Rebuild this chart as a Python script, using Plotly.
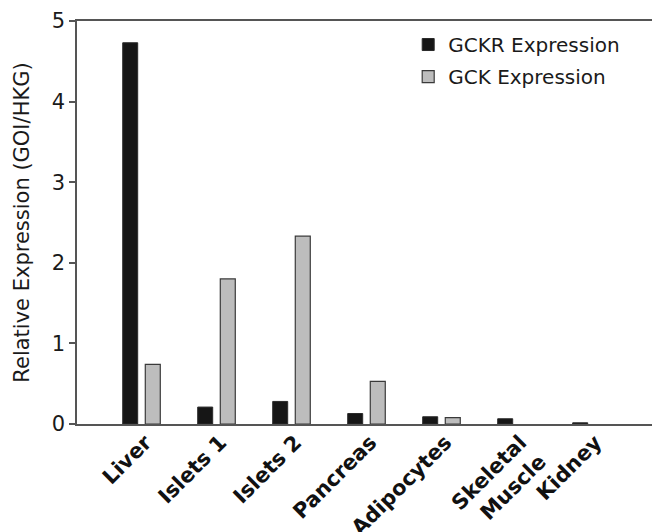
import plotly.graph_objects as go

categories = ["Liver", "Islets 1", "Islets 2", "Pancreas", "Adipocytes", "Skeletal<br>Muscle", "Kidney"]
gckr_values = [4.73, 0.21, 0.28, 0.13, 0.09, 0.065, 0.015]
gck_values = [0.74, 1.80, 2.33, 0.53, 0.08, 0.0, 0.0]
y_ticks = [0, 1, 2, 3, 4, 5]

FONT = "DejaVu Sans"


def outline_widths(values, w):
    return [w if v > 0 else 0 for v in values]


fig = go.Figure()
fig.add_trace(go.Bar(
    name="GCKR Expression", x=categories, y=gckr_values, legendgroup="a",
    marker=dict(color="#161616", line=dict(color="#2a2a2a", width=outline_widths(gckr_values, 1))),
))
fig.add_trace(go.Bar(
    name="GCK Expression", x=categories, y=gck_values, legendgroup="b",
    marker=dict(color="#bdbdbd", line=dict(color="#3a3a3a", width=outline_widths(gck_values, 1.2))),
))

fig.update_layout(
    width=652, height=532,
    margin=dict(l=77, r=0, t=21, b=108, autoexpand=False),
    paper_bgcolor="white", plot_bgcolor="white",
    barmode="group", bargap=0.398, bargroupgap=0.336,
    font=dict(family=FONT, color="#1a1a1a"),
    showlegend=True,
    legend=dict(
        x=0.576, y=0.99, xanchor="left", yanchor="top",
        bgcolor="rgba(0,0,0,0)", font=dict(size=20, family=FONT, color="#1a1a1a"),
        tracegroupgap=3, itemwidth=30,
    ),
    xaxis=dict(
        range=[-0.86, 6.807], showline=True, mirror=True, linecolor="#555555", linewidth=1.5,
        ticks="", showgrid=False, zeroline=False, tickangle=-45, automargin=False,
        ticklabelstandoff=-4, ticklabelshift=4,
        tickfont=dict(family=FONT, size=21, weight="bold", color="#111111"),
    ),
    yaxis=dict(
        range=[0, 5], tickvals=y_ticks, showline=True, linecolor="#555555", linewidth=1.5,
        ticks="outside", ticklen=6, tickcolor="#555555", tickwidth=1.5,
        showgrid=False, zeroline=False, automargin=False,
        tickfont=dict(family=FONT, size=21, color="#1a1a1a"),
        title=dict(text="Relative Expression (GOI/HKG)", font=dict(family=FONT, size=21, color="#1a1a1a"), standoff=16),
    ),
)

fig.write_html(
    "out.html",
    config={"displayModeBar": False},
    post_script="document.body.style.margin='0';document.body.style.overflow='hidden';",
)
